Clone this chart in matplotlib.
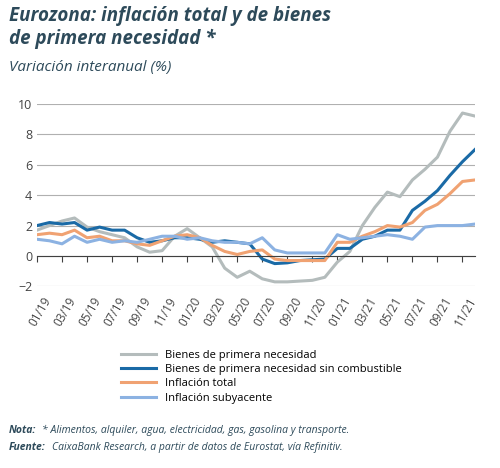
import matplotlib.pyplot as plt
import matplotlib.transforms as mtrans
import numpy as np

months = ['01/19', '03/19', '05/19', '07/19', '09/19', '11/19', '01/20', '03/20', '05/20',
          '07/20', '09/20', '11/20', '01/21', '03/21', '05/21', '07/21', '09/21', '11/21']
bienes = [1.7, 2.0, 2.3, 2.5, 1.9, 1.6, 1.4, 1.2, 0.6, 0.25, 0.35, 1.3, 1.8, 1.2, 0.6, -0.8, -1.4, -1.0,
          -1.5, -1.7, -1.7, -1.65, -1.6, -1.4, -0.4, 0.3, 2.0, 3.2, 4.2, 3.9, 5.0, 5.7, 6.5, 8.2, 9.4, 9.2]
bienes_sc = [2.0, 2.2, 2.1, 2.2, 1.7, 1.9, 1.7, 1.7, 1.2, 0.9, 1.0, 1.2, 1.2, 1.1, 0.9, 1.0, 0.9, 0.8,
             -0.2, -0.5, -0.45, -0.3, -0.25, -0.2, 0.5, 0.5, 1.1, 1.3, 1.7, 1.7, 3.0, 3.6, 4.3, 5.3, 6.2, 7.0]
total = [1.4, 1.5, 1.4, 1.7, 1.2, 1.3, 1.0, 1.0, 0.8, 0.7, 1.0, 1.3, 1.4, 1.2, 0.7, 0.3, 0.1, 0.3,
         0.4, -0.2, -0.3, -0.3, -0.3, -0.3, 0.9, 0.9, 1.3, 1.6, 2.0, 1.9, 2.2, 3.0, 3.4, 4.1, 4.9, 5.0]
subyacente = [1.1, 1.0, 0.8, 1.3, 0.9, 1.1, 0.9, 1.0, 0.9, 1.1, 1.3, 1.3, 1.1, 1.2, 1.0, 0.9, 0.9, 0.8,
              1.2, 0.4, 0.2, 0.2, 0.2, 0.2, 1.4, 1.1, 1.2, 1.3, 1.4, 1.3, 1.1, 1.9, 2.0, 2.0, 2.0, 2.1]

plt.rcParams['font.family'] = ['Open Sans', 'DejaVu Sans']
txt = '#2d4a5a'

fig = plt.figure(figsize=(5.0, 4.68), dpi=100)
ax = fig.add_axes([0.074, 0.388, 0.876, 0.39])
x = np.arange(len(bienes))
ax.plot(x, bienes, color='#b4bcbc', lw=2.2, label='Bienes de primera necesidad')
ax.plot(x, bienes_sc, color='#1a6aa6', lw=2.2, label='Bienes de primera necesidad sin combustible')
ax.plot(x, total, color='#f0a272', lw=2.2, label='Inflación total')
ax.plot(x, subyacente, color='#8cb2e2', lw=2.2, label='Inflación subyacente')

ax.set_xlim(0, 35)
ax.set_ylim(-2, 10)
ax.set_yticks(range(-2, 11, 2))
ax.grid(axis='y', color='#b0b0b0', lw=0.8)
ax.set_axisbelow(True)
for s in ax.spines.values():
    s.set_visible(False)
ax.spines['bottom'].set_visible(True)
ax.spines['bottom'].set_position(('data', 0))
ax.spines['bottom'].set_color('#404040')
ax.set_xticks(np.arange(0, 36, 2))
ax.set_xticklabels([])
ax.tick_params(axis='x', length=4, color='#404040')
ax.tick_params(axis='y', length=0, labelsize=9, colors='#444444')

# month labels below the plot area
trans = mtrans.blended_transform_factory(ax.transData, ax.transAxes) + \
    mtrans.ScaledTranslation(4 / 72, -6 / 72, fig.dpi_scale_trans)
for i, m in enumerate(months):
    ax.text(i * 2, 0, m, transform=trans, rotation=60, ha='right', va='top',
            rotation_mode='anchor', fontsize=8.5, color='#444444')

fig.text(0.018, 0.955, 'Eurozona: inflación total y de bienes', fontsize=13.5, fontweight='bold',
         style='italic', color=txt)
fig.text(0.018, 0.905, 'de primera necesidad *', fontsize=13.5, fontweight='bold', style='italic', color=txt)
fig.text(0.018, 0.848, 'Variación interanual (%)', fontsize=11, style='italic', color=txt)

fig.legend(loc='upper left', bbox_to_anchor=(0.23, 0.265), frameon=False, fontsize=8,
           handlelength=3.2, labelspacing=0.3, borderpad=0)

fig.text(0.018, 0.075, 'Nota:', fontsize=7.5, style='italic', fontweight='bold', color=txt)
fig.text(0.083, 0.075, '* Alimentos, alquiler, agua, electricidad, gas, gasolina y transporte.',
         fontsize=7.5, style='italic', color=txt)
fig.text(0.018, 0.038, 'Fuente:', fontsize=7.5, style='italic', fontweight='bold', color=txt)
fig.text(0.103, 0.038, 'CaixaBank Research, a partir de datos de Eurostat, vía Refinitiv.',
         fontsize=7.5, style='italic', color=txt)

fig.savefig('out.png', dpi=100)
